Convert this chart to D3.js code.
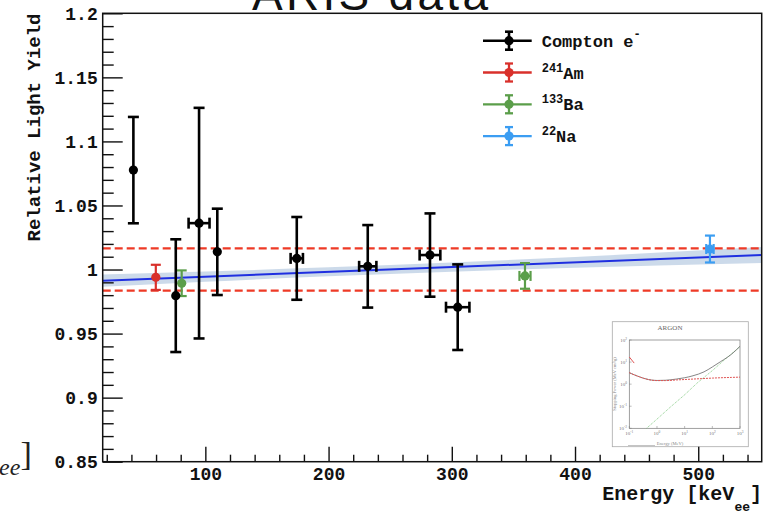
<!DOCTYPE html>
<html><head><meta charset="utf-8">
<script src="https://cdn.jsdelivr.net/npm/d3@7"></script>
<style>body{margin:0;background:#fff}svg{display:block}</style>
</head><body><svg id="c" width="773" height="514"></svg>
<script>
// ---------- data ----------
const comptonEnergy = [41.6, 76.0, 94.9, 109.7, 174.2, 231.8, 282.3, 304.8];
const comptonYield  = [1.0776, 0.9796, 1.0362, 1.0138, 1.0087, 1.0025, 1.0113, 0.9706];
const comptonErrY   = [0.0415, 0.044, 0.090, 0.0337, 0.0323, 0.0322, 0.0325, 0.0334];
const comptonErrX   = [0, 0, 8.5, 0, 5.0, 7.0, 8.4, 9.5];

const amEnergy = [59.8];  const amYield = [0.9939]; const amErrY = [0.0098]; const amErrX = [0];
const baEnergy = [80.8, 359.4]; const baYield = [0.9893, 0.9950]; const baErrY = [0.0100, 0.0100]; const baErrX = [0, 4.5];
const naEnergy = [509.5]; const naYield = [1.0160]; const naErrY = [0.0105]; const naErrX = [3.0];

const fitEnergy = [16.7, 551.5];
const fitYield  = [0.9913, 1.0113];
const bandEnergy = [16.7, 100, 200, 300, 400, 551.5];
const bandLow    = [0.9865, 0.9904, 0.9947, 0.9983, 1.0014, 1.0051];
const bandHigh   = [0.9961, 0.9984, 1.0017, 1.0055, 1.0098, 1.0175];
const dashLevels = [1.0165, 0.9835];

const yMajorTicks = [0.85, 0.9, 0.95, 1.0, 1.05, 1.1, 1.15, 1.2];
const yTickLabels = ["0.85", "0.9", "0.95", "1", "1.05", "1.1", "1.15", "1.2"];
const xMajorTicks = [100, 200, 300, 400, 500];
const xTickLabels = ["100", "200", "300", "400", "500"];

const legendSup   = ["", "241", "133", "22"];
const legendMain  = ["Compton e", "Am", "Ba", "Na"];
const legendSupAfter = ["-", "", "", ""];

// inset (ARGON stopping power)
const insetEnergy = [0.1, 0.2, 0.5, 1, 2, 5, 10, 20, 50, 100, 200, 500, 1000];
const insetCollision = [3.3, 2.3, 1.6, 1.45, 1.45, 1.55, 1.62, 1.7, 1.8, 1.88, 1.95, 2.02, 2.08];
const insetTotal = [3.3, 2.3, 1.61, 1.47, 1.5, 1.7, 1.95, 2.4, 3.6, 6.0, 10.5, 23, 52];
const insetRadEnergy = [0.42, 1, 3, 10, 30, 100, 300, 1000];
const insetRadiative = [0.01, 0.026, 0.09, 0.33, 1.2, 4.1, 14, 50];
const insetOddEnergy = [0.1, 0.15];
const insetOddValue = [17, 9];
const insetXTicks = [0.1, 1, 10, 100, 1000];
const insetXExp = ["-1", "0", "1", "2", "3"];
const insetYTicks = [0.01, 0.1, 1, 10, 100];
const insetYExp = ["-2", "-1", "0", "1", "2"];

// ---------- drawing ----------
const svg = d3.select("#c");
const x = d3.scaleLinear().domain([16.7, 551.5]).range([102.7, 761.7]);
const y = d3.scaleLinear().domain([0.85, 1.2]).range([461.7, 13.3]);
const mono = "'Liberation Mono', 'Courier New', monospace";

// title (cut off at top)
svg.append("text").attr("x", 252).attr("y", 9.5)
  .attr("font-family", "'Liberation Sans', Arial, sans-serif").attr("font-size", 46)
  .attr("textLength", 236).attr("lengthAdjust", "spacing")
  .attr("fill", "#111").text("ARIS data");

// stray fragment bottom-left
svg.append("text").attr("x", -1).attr("y", 475).attr("font-family", "'Liberation Serif', serif")
  .attr("font-style", "italic").attr("font-size", 24).attr("fill", "#222").text("ee");
svg.append("text").attr("x", 20.5).attr("y", 465).attr("font-family", "'Liberation Serif', serif")
  .attr("font-size", 34).attr("fill", "#222").text("]");

const plot = svg.append("g");

// band
const bandData = bandEnergy.map((e, i) => ({e, lo: bandLow[i], hi: bandHigh[i]}));
plot.append("path").datum(bandData)
  .attr("d", d3.area().x(d => x(d.e)).y0(d => y(d.lo)).y1(d => y(d.hi)).curve(d3.curveMonotoneX))
  .attr("fill", "#c3d4e6").attr("opacity", 0.85);

// fit line
plot.append("path").datum(fitEnergy.map((e, i) => [e, fitYield[i]]))
  .attr("d", d3.line().x(d => x(d[0])).y(d => y(d[1])))
  .attr("stroke", "#1f2fe0").attr("stroke-width", 2).attr("fill", "none");

// dashed lines
plot.selectAll(".dash").data(dashLevels).enter().append("line")
  .attr("x1", x(16.7)).attr("x2", x(551.5)).attr("y1", d => y(d)).attr("y2", d => y(d))
  .attr("stroke", "#ee3a26").attr("stroke-width", 2.3).attr("stroke-dasharray", "8,4");

function drawSeries(E, V, ey, ex, color, lw, cap, r) {
  const data = E.map((e, i) => ({e, v: V[i], ey: ey[i], ex: ex[i]}));
  const g = plot.append("g").attr("stroke", color).attr("fill", color);
  const s = g.selectAll(null).data(data).enter().append("g");
  s.append("line").attr("x1", d => x(d.e)).attr("x2", d => x(d.e))
    .attr("y1", d => y(d.v + d.ey)).attr("y2", d => y(d.v - d.ey)).attr("stroke-width", lw);
  [1, -1].forEach(sg => {
    s.append("line").attr("x1", d => x(d.e) - cap).attr("x2", d => x(d.e) + cap)
      .attr("y1", d => y(d.v + sg * d.ey)).attr("y2", d => y(d.v + sg * d.ey)).attr("stroke-width", lw);
  });
  const h = s.filter(d => d.ex > 0);
  h.append("line").attr("x1", d => x(d.e - d.ex)).attr("x2", d => x(d.e + d.ex))
    .attr("y1", d => y(d.v)).attr("y2", d => y(d.v)).attr("stroke-width", lw);
  [1, -1].forEach(sg => {
    h.append("line").attr("x1", d => x(d.e + sg * d.ex)).attr("x2", d => x(d.e + sg * d.ex))
      .attr("y1", d => y(d.v) - cap).attr("y2", d => y(d.v) + cap).attr("stroke-width", lw);
  });
  s.append("circle").attr("cx", d => x(d.e)).attr("cy", d => y(d.v)).attr("r", r).attr("stroke", "none");
}
const cRed = "#d9302b", cGreen = "#5b9e4a", cBlue = "#3b9df2";
drawSeries(amEnergy, amYield, amErrY, amErrX, cRed, 2.2, 5, 4.6);
drawSeries(baEnergy, baYield, baErrY, baErrX, cGreen, 2.2, 5, 4.6);
drawSeries(naEnergy, naYield, naErrY, naErrX, cBlue, 2.2, 5, 4.6);
drawSeries(comptonEnergy, comptonYield, comptonErrY, comptonErrX, "#000", 2.6, 5.5, 4.6);

// inset
const ix = d3.scaleLog().domain([0.1, 1000]).range([629.3, 740]);
const iy = d3.scaleLog().domain([0.01, 100]).range([428.3, 340]);
const inset = svg.append("g");
inset.append("rect").attr("x", 612.3).attr("y", 321.7).attr("width", 136).attr("height", 125)
  .attr("fill", "#fff").attr("stroke", "#aaa").attr("stroke-width", 0.8);
inset.append("text").attr("x", 670).attr("y", 329.5).attr("text-anchor", "middle")
  .attr("font-family", "'Liberation Serif', serif").attr("font-size", 7).attr("fill", "#666").text("ARGON");
inset.append("rect").attr("x", 629.3).attr("y", 340).attr("width", 110.7).attr("height", 88.3)
  .attr("fill", "none").attr("stroke", "#777").attr("stroke-width", 0.7);
const il = d3.line().x(d => ix(d[0])).y(d => iy(d[1]));
inset.append("path").datum(insetRadEnergy.map((e, i) => [e, insetRadiative[i]])).attr("d", il)
  .attr("fill", "none").attr("stroke", "#6cc06c").attr("stroke-width", 0.8).attr("stroke-dasharray", "1,1");
inset.append("path").datum(insetEnergy.map((e, i) => [e, insetTotal[i]])).attr("d", il.curve(d3.curveMonotoneX))
  .attr("fill", "none").attr("stroke", "#666").attr("stroke-width", 0.8);
inset.append("path").datum(insetEnergy.map((e, i) => [e, insetCollision[i]])).attr("d", il.curve(d3.curveMonotoneX))
  .attr("fill", "none").attr("stroke", "#e05555").attr("stroke-width", 1).attr("stroke-dasharray", "2,1");
inset.append("path").datum(insetOddEnergy.map((e, i) => [e, insetOddValue[i]])).attr("d", d3.line().x(d => ix(d[0])).y(d => iy(d[1])))
  .attr("fill", "none").attr("stroke", "#e05555").attr("stroke-width", 1);
inset.selectAll(".ixt").data(insetXTicks).enter().append("text")
  .attr("x", d => ix(d)).attr("y", 435).attr("text-anchor", "middle")
  .attr("font-family", "'Liberation Serif', serif").attr("font-size", 5).attr("fill", "#777")
  .each(function(d, i) { const t = d3.select(this); t.append("tspan").text("10"); t.append("tspan").attr("dy", -2).attr("font-size", 3.5).text(insetXExp[i]); });
inset.selectAll(".iyt").data(insetYTicks).enter().append("text")
  .attr("x", 627).attr("y", d => iy(d) + 2).attr("text-anchor", "end")
  .attr("font-family", "'Liberation Serif', serif").attr("font-size", 5).attr("fill", "#777")
  .each(function(d, i) { const t = d3.select(this); t.append("tspan").text("10"); t.append("tspan").attr("dy", -2).attr("font-size", 3.5).text(insetYExp[i]); });
inset.selectAll(".ixtk").data(insetXTicks).enter().append("line")
  .attr("x1", d => ix(d)).attr("x2", d => ix(d)).attr("y1", 428.3).attr("y2", 426).attr("stroke", "#777").attr("stroke-width", 0.5);
inset.selectAll(".iytk").data(insetYTicks).enter().append("line")
  .attr("x1", 629.3).attr("x2", 631.6).attr("y1", d => iy(d)).attr("y2", d => iy(d)).attr("stroke", "#777").attr("stroke-width", 0.5);
inset.append("text").attr("transform", "translate(616,384) rotate(-90)").attr("text-anchor", "middle")
  .attr("font-family", "'Liberation Serif', serif").attr("font-size", 4.5).attr("fill", "#888")
  .text("Stopping Power (MeV cm²/g)");
inset.append("text").attr("x", 670).attr("y", 445).attr("text-anchor", "middle")
  .attr("font-family", "'Liberation Serif', serif").attr("font-size", 4.5).attr("fill", "#888").text("Energy (MeV)");
inset.append("line").attr("x1", 628).attr("x2", 655).attr("y1", 445.5).attr("y2", 445.5).attr("stroke", "#aaa").attr("stroke-width", 0.7);

// frame
svg.append("rect").attr("x", 102.7).attr("y", 13.3).attr("width", 659).attr("height", 448.4)
  .attr("fill", "none").attr("stroke", "#111").attr("stroke-width", 1.5);

// axes
const yMinor = d3.range(0.85, 1.2001, 0.01).map(v => +v.toFixed(2)).filter(v => !yMajorTicks.some(m => Math.abs(m - v) < 1e-6));
const xMinor = d3.range(20, 551, 20).filter(v => v % 100 !== 0);

function styleAxis(g) {
  g.select(".domain").remove();
  g.selectAll(".tick line").attr("stroke", "#111").attr("stroke-width", 1.4);
  g.selectAll("text").attr("font-family", mono).attr("font-weight", "bold").attr("font-size", 18).attr("fill", "#111");
}
svg.append("g").attr("transform", "translate(102.7,0)")
  .call(d3.axisLeft(y).tickValues(yMinor).tickSize(-11).tickFormat(""))
  .call(styleAxis);
svg.append("g").attr("transform", "translate(102.7,0)")
  .call(d3.axisLeft(y).tickValues(yMajorTicks).tickSize(-20).tickPadding(5)
    .tickFormat((d, i) => yTickLabels[i]))
  .call(styleAxis);
svg.append("g").attr("transform", "translate(0,461.7)")
  .call(d3.axisBottom(x).tickValues(xMinor).tickSize(-7).tickFormat(""))
  .call(styleAxis);
svg.append("g").attr("transform", "translate(0,461.7)")
  .call(d3.axisBottom(x).tickValues(xMajorTicks).tickSize(-15).tickPadding(6)
    .tickFormat((d, i) => xTickLabels[i]))
  .call(styleAxis);

// axis titles
svg.append("text").attr("transform", "translate(40,127.5) rotate(-90)").attr("text-anchor", "middle")
  .attr("font-family", mono).attr("font-weight", "bold").attr("font-size", 19).attr("fill", "#111")
  .text("Relative Light Yield");
const xt = svg.append("text").attr("x", 762).attr("y", 500).attr("text-anchor", "end")
  .attr("font-family", mono).attr("font-weight", "bold").attr("font-size", 20).attr("fill", "#111");
xt.append("tspan").text("Energy [keV");
xt.append("tspan").attr("dy", 11).attr("font-size", 13).text("ee");
xt.append("tspan").attr("dy", -11).text("]");

// legend
const legColors = ["#000", cRed, cGreen, cBlue];
const legY = d3.range(4).map(i => 40.7 + i * 31.8);
const leg = svg.append("g");
legColors.forEach((c, i) => {
  const cy = legY[i];
  const lw = i === 0 ? 2.6 : 2.3;
  leg.append("line").attr("x1", 483).attr("x2", 531.7).attr("y1", cy).attr("y2", cy).attr("stroke", c).attr("stroke-width", lw);
  leg.append("line").attr("x1", 509).attr("x2", 509).attr("y1", cy - 9).attr("y2", cy + 9).attr("stroke", c).attr("stroke-width", lw);
  leg.append("line").attr("x1", 505).attr("x2", 513).attr("y1", cy - 9).attr("y2", cy - 9).attr("stroke", c).attr("stroke-width", lw);
  leg.append("line").attr("x1", 505).attr("x2", 513).attr("y1", cy + 9).attr("y2", cy + 9).attr("stroke", c).attr("stroke-width", lw);
  leg.append("circle").attr("cx", 509).attr("cy", cy).attr("r", 4.6).attr("fill", c);
  const t = leg.append("text").attr("x", 541.7).attr("y", cy + 6)
    .attr("font-family", mono).attr("font-weight", "bold").attr("font-size", 17).attr("fill", "#111");
  if (legendSup[i]) t.append("tspan").attr("dy", -7).attr("font-size", 12).text(legendSup[i]);
  t.append("tspan").attr("dy", legendSup[i] ? 7 : 0).text(legendMain[i]);
  if (legendSupAfter[i]) t.append("tspan").attr("dy", -9).attr("font-size", 12).text(legendSupAfter[i]);
});
</script></body></html>
